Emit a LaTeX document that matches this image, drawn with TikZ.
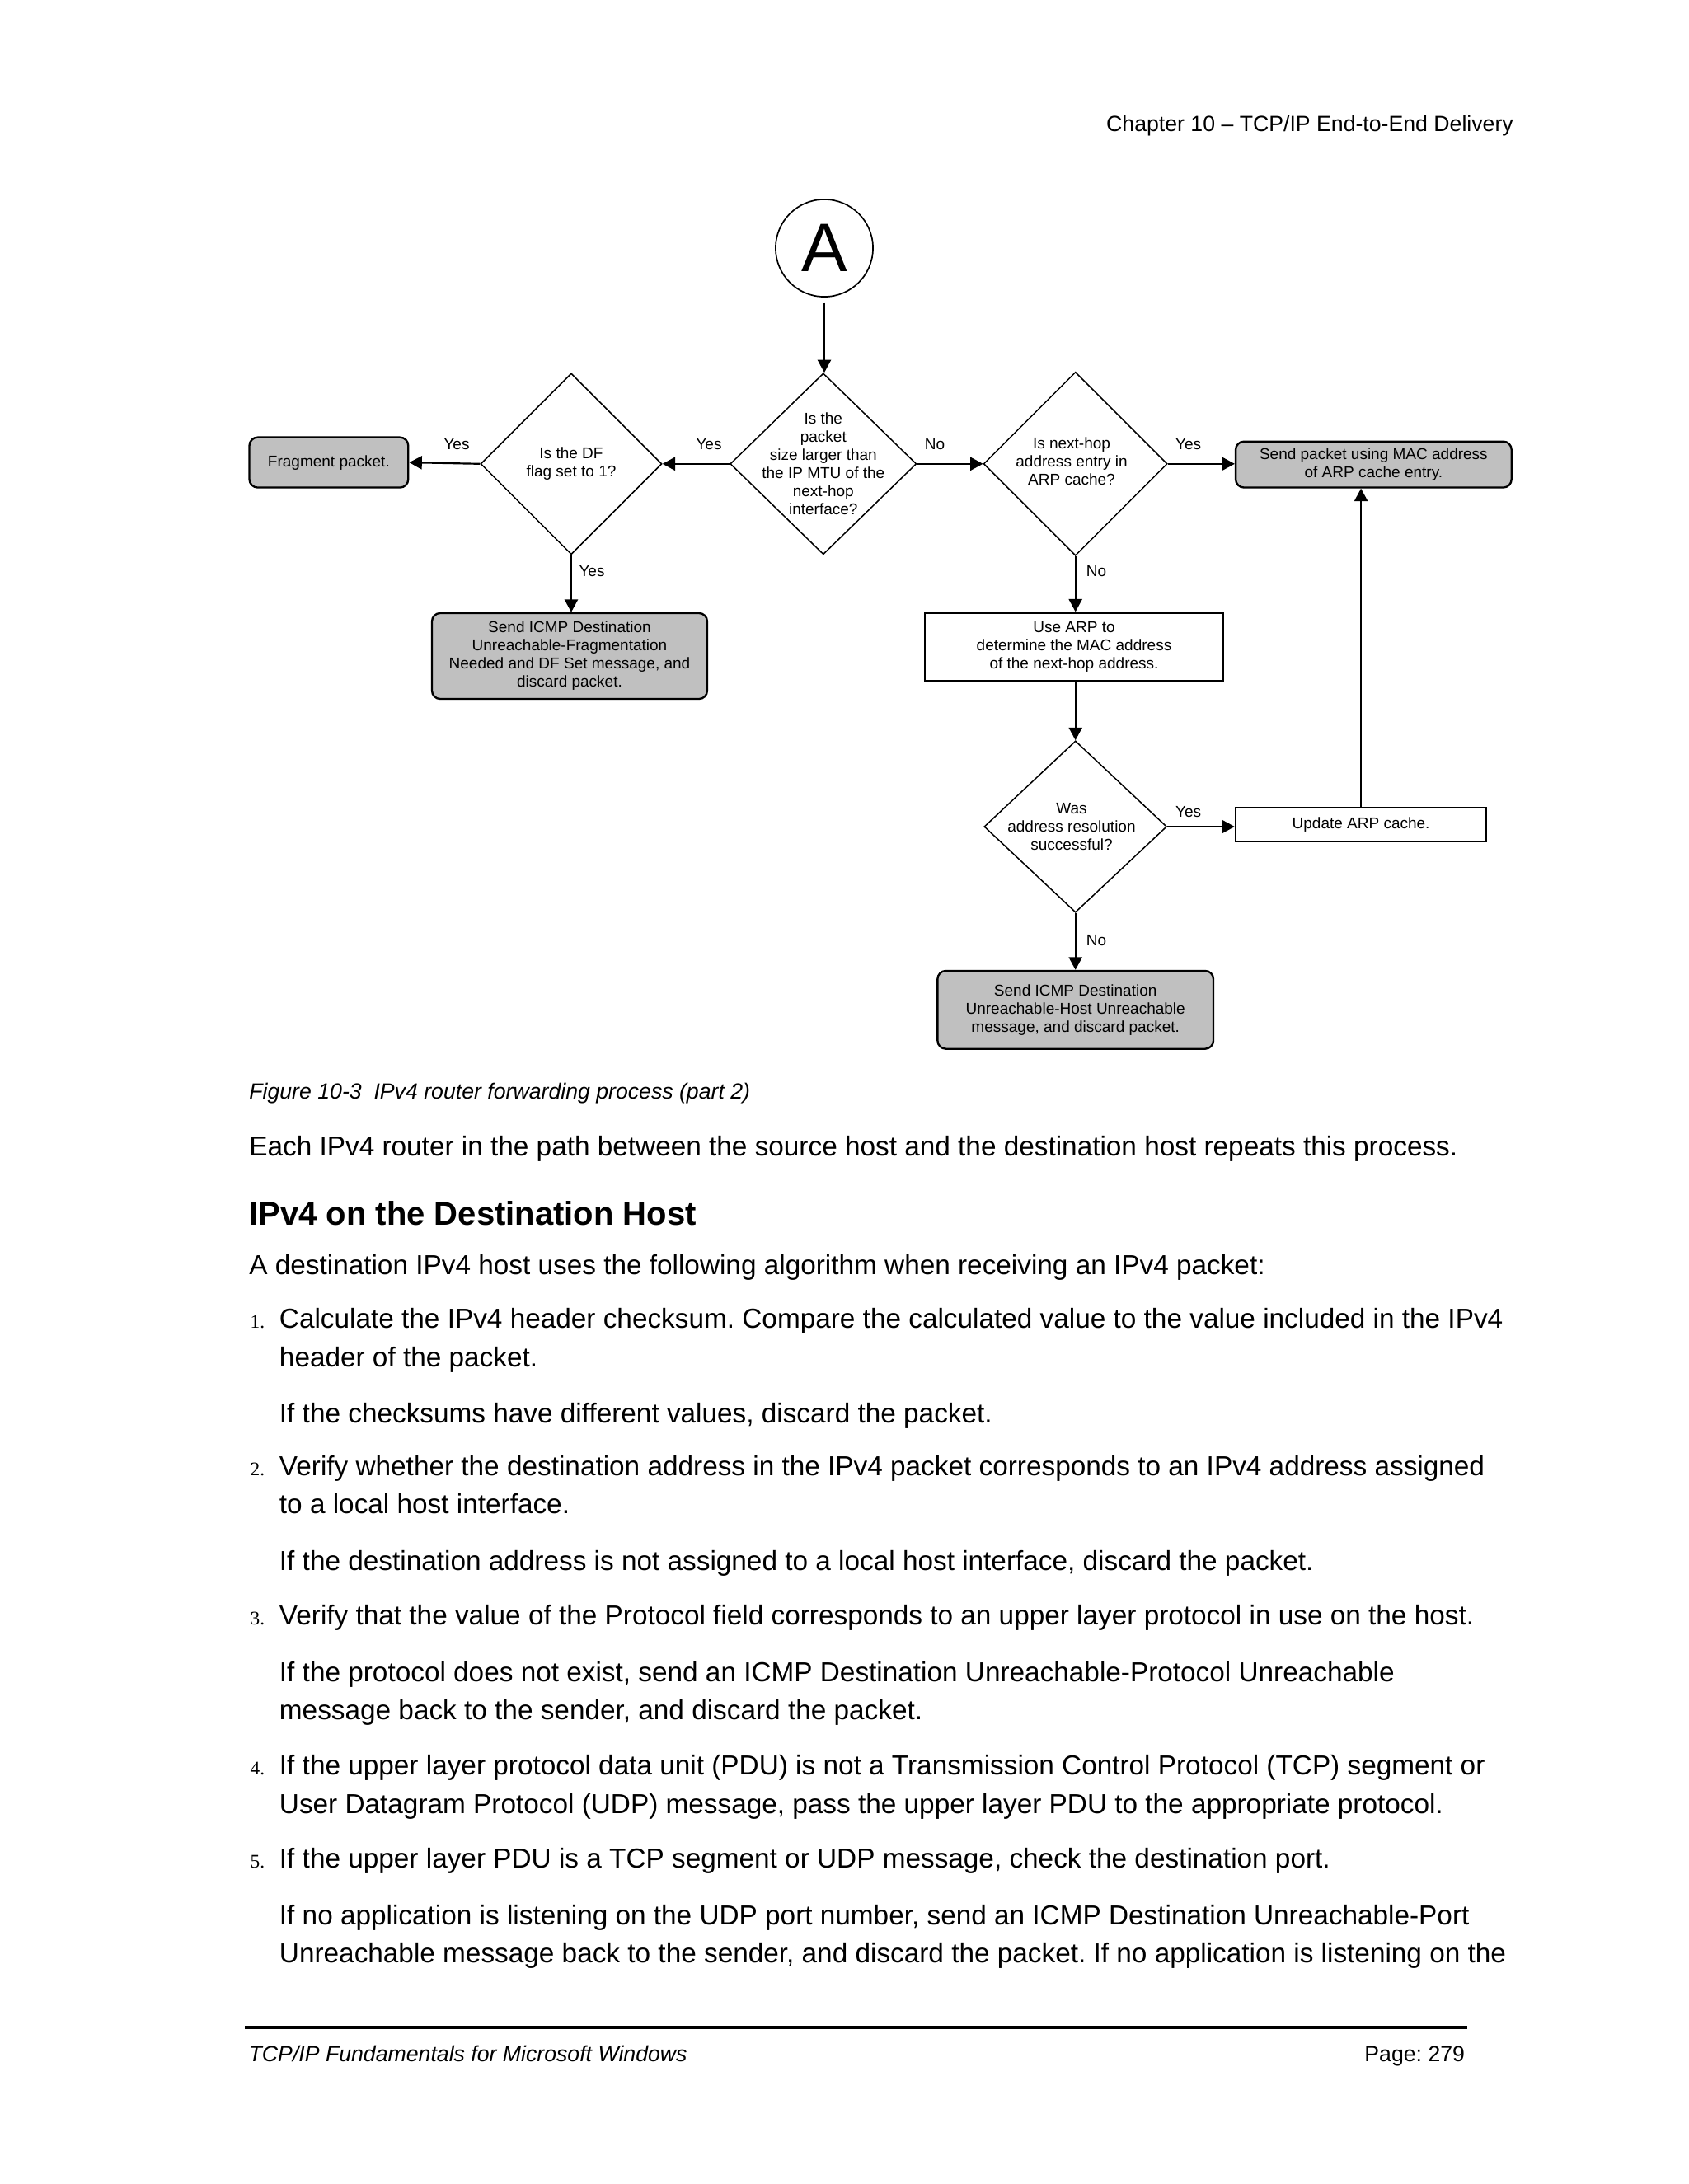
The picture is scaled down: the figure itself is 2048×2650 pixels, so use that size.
\documentclass[tikz,border=0pt]{standalone}
\usepackage{fontspec}
\setmainfont{Liberation Sans}
\newfontfamily\numfont{Liberation Serif}
\usetikzlibrary{shapes.geometric,arrows.meta}
\definecolor{boxgray}{HTML}{C0C0C0}
\frenchspacing
\begin{document}
\begin{tikzpicture}[x=0.298828bp,y=-0.298828bp,
  dfont/.style={font=\fontsize{5.7}{6.6}\selectfont},
  dtxt/.style={dfont, align=center, inner sep=0},
  gbox/.style={draw, line width=0.7bp, fill=boxgray, rounded corners=3bp, dfont, align=center, inner sep=0},
  wbox/.style={draw, line width=0.8bp, fill=white, dfont, align=center, inner sep=0},
  dia/.style={draw, diamond, line width=0.45bp, inner sep=0, fill=white},
  arr/.style={line width=0.65bp, -{Triangle[length=4.6bp,width=4.8bp]}},
  lbl/.style={dfont, inner sep=0},
  body/.style={anchor=base west, inner sep=0, font=\fontsize{10}{12}\selectfont},
  num/.style={anchor=base west, inner sep=0, font=\numfont\fontsize{7}{8}\selectfont}
]
\useasboundingbox (0,0) rectangle (2048,2650);
\fill[white] (0,0) rectangle (2048,2650);

% header
\node[anchor=base east, inner sep=0, font=\fontsize{8}{9.6}\selectfont] (hdr) at (1836.5,159) {Chapter 10 – TCP/IP End-to-End Delivery};

% diagram
\node[draw, circle, line width=0.5bp, minimum size=35.3bp, inner sep=0, font=\fontsize{25}{30}\selectfont] (A) at (1000,301) {A};

\node[dia, minimum width=67.5bp, minimum height=65.7bp] (mtu) at (998.8,562.8) {};
\node[dtxt] (mtut) at (998.8,562.8) {Is the\\packet\\size larger than\\the IP MTU of the\\next-hop\\interface?};

\node[dia, minimum width=65.7bp, minimum height=65.7bp] (df) at (693,562.8) {};
\node[dtxt] (dft) at (693,562.8) {Is the DF\\flag set to 1?};

\node[dia, minimum width=66.6bp, minimum height=66.6bp] (arp) at (1304.7,562.8) {};
\node[dtxt] (arpt) at (1300,560) {Is next-hop\\address entry in\\ARP cache?};

\node[gbox, minimum width=57.6bp, minimum height=18.2bp] (frag) at (398.9,561.1) {Fragment packet.};
\node[gbox, minimum width=100bp, minimum height=16.7bp] (mac) at (1666.4,563.6) {Send packet using MAC address\\of ARP cache entry.};
\node[gbox, minimum width=99.8bp, minimum height=31.1bp] (icf) at (691,796) {Send ICMP Destination\\Unreachable-Fragmentation\\Needed and DF Set message, and\\discard packet.};
\node[wbox, minimum width=108.2bp, minimum height=24.7bp] (use) at (1303,785) {Use ARP to\\determine the MAC address\\of the next-hop address.};

\node[dia, minimum width=66.2bp, minimum height=62.2bp] (was) at (1304.7,1003) {};
\node[dtxt] (wast) at (1300,1003) {Was\\address resolution\\successful?};

\node[wbox, line width=0.7bp, minimum width=90.9bp, minimum height=12.2bp] (upd) at (1651.1,1000.4) {Update ARP cache.};
\node[gbox, minimum width=100bp, minimum height=28.3bp] (ich) at (1304.7,1225.3) {Send ICMP Destination\\Unreachable-Host Unreachable\\message, and discard packet.};

% connectors
\draw[arr, shorten <=2bp] (A.south) -- (A.south |- mtu.north);
\draw[arr] (mtu.west) -- (df.east);
\draw[arr] (df.west) -- (frag.east);
\draw[arr] (mtu.east) -- (arp.west);
\draw[arr] (arp.east) -- (arp.east -| mac.west);
\draw[arr] (df.south) -- (df.south |- icf.north);
\draw[arr] (arp.south) -- (arp.south |- use.north);
\draw[arr] (use.south -| was.north) -- (was.north);
\draw[arr] (was.east) -- (was.east -| upd.west);
\draw[arr] (was.south) -- (was.south |- ich.north);
\draw[arr] (upd.north) -- (upd.north |- mac.south);

% labels
\node[lbl] (l1) at (554,539) {Yes};
\node[lbl] (l2) at (860,539) {Yes};
\node[lbl] (l3) at (1134,539) {No};
\node[lbl] (l4) at (1441.6,539) {Yes};
\node[lbl] (l5) at (718,693) {Yes};
\node[lbl] (l6) at (1330,693) {No};
\node[lbl] (l7) at (1441.6,985) {Yes};
\node[lbl] (l8) at (1330,1141) {No};

% caption and body
\node[anchor=base west, inner sep=0, font=\itshape\fontsize{8}{9.6}\selectfont] (cap) at (301.7,1333.3) {Figure 10-3\ \ IPv4 router forwarding process (part 2)};
\node[body] (p0) at (301.7,1402) {Each IPv4 router in the path between the source host and the destination host repeats this process.};
\node[anchor=base west, inner sep=0, font=\bfseries\fontsize{12}{14}\selectfont] (h1) at (301.7,1486.7) {IPv4 on the Destination Host};
\node[body] (p1) at (301.7,1546.7) {A destination IPv4 host uses the following algorithm when receiving an IPv4 packet:};

\node[num] (n1) at (303,1611.7) {1.};
\node[body] (b1a) at (338.3,1611.7) {Calculate the IPv4 header checksum. Compare the calculated value to the value included in the IPv4};
\node[body] (b1b) at (338.3,1658.3) {header of the packet.};
\node[body] (b1c) at (338.3,1726) {If the checksums have different values, discard the packet.};

\node[num] (n2) at (303,1790) {2.};
\node[body] (b2a) at (338.3,1790) {Verify whether the destination address in the IPv4 packet corresponds to an IPv4 address assigned};
\node[body] (b2b) at (338.3,1836.7) {to a local host interface.};
\node[body] (b2c) at (338.3,1905) {If the destination address is not assigned to a local host interface, discard the packet.};

\node[num] (n3) at (303,1971.7) {3.};
\node[body] (b3a) at (338.3,1971.7) {Verify that the value of the Protocol field corresponds to an upper layer protocol in use on the host.};
\node[body] (b3b) at (338.3,2040) {If the protocol does not exist, send an ICMP Destination Unreachable-Protocol Unreachable};
\node[body] (b3c) at (338.3,2086.7) {message back to the sender, and discard the packet.};

\node[num] (n4) at (303,2153.3) {4.};
\node[body] (b4a) at (338.3,2153.3) {If the upper layer protocol data unit (PDU) is not a Transmission Control Protocol (TCP) segment or};
\node[body] (b4b) at (338.3,2200) {User Datagram Protocol (UDP) message, pass the upper layer PDU to the appropriate protocol.};

\node[num] (n5) at (303,2266.7) {5.};
\node[body] (b5a) at (338.3,2266.7) {If the upper layer PDU is a TCP segment or UDP message, check the destination port.};
\node[body] (b5b) at (338.3,2335) {If no application is listening on the UDP port number, send an ICMP Destination Unreachable-Port};
\node[body] (b5c) at (338.3,2381.7) {Unreachable message back to the sender, and discard the packet. If no application is listening on the};

% footer
\draw[line width=1bp] (297,2460) -- (1780,2460);
\node[anchor=base west, inner sep=0, font=\itshape\fontsize{8}{9.6}\selectfont] (ft) at (301,2501) {TCP/IP Fundamentals for Microsoft Windows};
\node[anchor=base east, inner sep=0, font=\fontsize{8}{9.6}\selectfont] (pg) at (1777.7,2501) {Page: 279};
\end{tikzpicture}
\end{document}
